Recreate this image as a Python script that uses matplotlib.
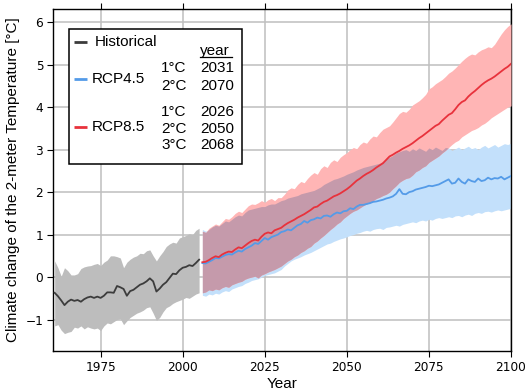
import numpy as np
import matplotlib
matplotlib.use("Agg")
import matplotlib.pyplot as plt
from matplotlib.patches import Rectangle

# ---- data ----
hist_years = np.arange(1961, 2006)
hist_mean = [-0.37, -0.45, -0.55, -0.66, -0.58, -0.53, -0.56, -0.54, -0.58, -0.52,
             -0.48, -0.46, -0.49, -0.46, -0.49, -0.44, -0.36, -0.36, -0.37, -0.21,
             -0.24, -0.28, -0.44, -0.33, -0.30, -0.24, -0.18, -0.15, -0.10, -0.03,
             -0.10, -0.34, -0.27, -0.18, -0.12, -0.02, 0.08, 0.07, 0.16, 0.22,
             0.24, 0.28, 0.26, 0.33, 0.41]
hist_hi = [0.38, 0.22, 0.02, 0.22, 0.15, 0.05, 0.05, 0.08, 0.20, 0.24,
           0.26, 0.27, 0.30, 0.32, 0.27, 0.35, 0.40, 0.50, 0.50, 0.48,
           0.45, 0.22, 0.35, 0.42, 0.47, 0.50, 0.56, 0.55, 0.62, 0.64,
           0.50, 0.38, 0.50, 0.60, 0.72, 0.78, 0.82, 0.80, 0.92, 0.95,
           0.98, 1.02, 1.00, 1.10, 1.15]
hist_lo = [-1.15, -1.12, -1.25, -1.33, -1.30, -1.28, -1.18, -1.20, -1.15, -1.22,
           -1.17, -1.20, -1.22, -1.20, -1.26, -1.15, -1.08, -1.10, -1.05, -1.00,
           -0.98, -1.12, -1.03, -0.95, -0.90, -0.85, -0.82, -0.78, -0.72, -0.70,
           -0.85, -1.02, -0.95, -0.82, -0.72, -0.68, -0.62, -0.58, -0.55, -0.52,
           -0.48, -0.50, -0.45, -0.40, -0.37]

rcp_years = np.arange(2006, 2101)
r85_mean = [0.35, 0.36, 0.40, 0.45, 0.49, 0.47, 0.53, 0.57, 0.60, 0.59,
            0.65, 0.70, 0.68, 0.74, 0.80, 0.85, 0.88, 0.86, 0.95, 1.02,
            1.05, 1.03, 1.10, 1.13, 1.16, 1.22, 1.27, 1.31, 1.35, 1.40,
            1.44, 1.48, 1.53, 1.58, 1.64, 1.66, 1.72, 1.77, 1.80, 1.85,
            1.90, 1.93, 1.97, 2.02, 2.07, 2.13, 2.20, 2.27, 2.32, 2.38,
            2.43, 2.47, 2.52, 2.58, 2.63, 2.68, 2.76, 2.84, 2.88, 2.93,
            2.97, 3.02, 3.06, 3.10, 3.15, 3.21, 3.27, 3.32, 3.38, 3.44,
            3.50, 3.56, 3.60, 3.68, 3.75, 3.82, 3.86, 3.95, 4.05, 4.12,
            4.16, 4.25, 4.32, 4.38, 4.45, 4.52, 4.58, 4.63, 4.67, 4.72,
            4.78, 4.84, 4.90, 4.95, 5.02]
r85_hi = [1.08, 1.05, 1.15, 1.20, 1.25, 1.22, 1.30, 1.38, 1.36, 1.42,
          1.50, 1.55, 1.52, 1.60, 1.68, 1.72, 1.71, 1.75, 1.80, 1.76,
          1.82, 1.85, 1.80, 1.87, 1.87, 1.95, 2.05, 2.10, 2.08, 2.18,
          2.25, 2.22, 2.32, 2.40, 2.46, 2.42, 2.55, 2.62, 2.58, 2.70,
          2.76, 2.72, 2.82, 2.88, 2.93, 3.00, 3.05, 3.02, 3.12, 3.18,
          3.15, 3.25, 3.32, 3.30, 3.40, 3.48, 3.52, 3.56, 3.65, 3.75,
          3.85, 3.90, 3.88, 3.95, 4.05, 4.10, 4.15, 4.22, 4.30, 4.43,
          4.48, 4.55, 4.60, 4.65, 4.72, 4.80, 4.85, 4.92, 5.00, 5.08,
          5.15, 5.21, 5.25, 5.23, 5.30, 5.35, 5.38, 5.42, 5.40, 5.48,
          5.60, 5.72, 5.82, 5.90, 5.96]
r85_lo = [-0.37, -0.35, -0.30, -0.32, -0.28, -0.30, -0.25, -0.22, -0.24, -0.18,
          -0.15, -0.12, -0.10, -0.05, -0.02, 0.00, 0.02, -0.02, 0.05, 0.08,
          0.12, 0.15, 0.18, 0.22, 0.26, 0.32, 0.38, 0.42, 0.48, 0.52,
          0.58, 0.62, 0.68, 0.72, 0.80, 0.85, 0.92, 0.98, 1.05, 1.12,
          1.18, 1.25, 1.30, 1.38, 1.44, 1.50, 1.55, 1.58, 1.63, 1.68,
          1.72, 1.75, 1.80, 1.85, 1.88, 1.92, 1.95, 2.00, 2.08, 2.15,
          2.23, 2.28, 2.32, 2.34, 2.40, 2.48, 2.52, 2.58, 2.62, 2.70,
          2.75, 2.80, 2.85, 2.92, 2.98, 3.05, 3.12, 3.18, 3.22, 3.30,
          3.35, 3.40, 3.45, 3.48, 3.52, 3.58, 3.62, 3.68, 3.75, 3.80,
          3.85, 3.90, 3.95, 4.00, 4.03]
r45_mean = [0.33, 0.32, 0.36, 0.40, 0.45, 0.44, 0.48, 0.52, 0.54, 0.53,
            0.58, 0.62, 0.60, 0.66, 0.70, 0.74, 0.80, 0.78, 0.85, 0.92,
            0.88, 0.94, 0.97, 1.00, 1.06, 1.08, 1.12, 1.10, 1.16, 1.22,
            1.25, 1.32, 1.28, 1.34, 1.36, 1.40, 1.38, 1.44, 1.45, 1.42,
            1.48, 1.52, 1.50, 1.55, 1.56, 1.62, 1.60, 1.66, 1.70, 1.70,
            1.72, 1.74, 1.77, 1.78, 1.80, 1.82, 1.85, 1.87, 1.90, 1.96,
            2.07, 1.96, 1.95, 2.00, 2.02, 2.06, 2.08, 2.10, 2.12, 2.15,
            2.14, 2.16, 2.18, 2.22, 2.26, 2.30, 2.20, 2.22, 2.32, 2.24,
            2.20, 2.30, 2.26, 2.24, 2.32, 2.26, 2.28, 2.34, 2.30, 2.33,
            2.32, 2.36, 2.30, 2.34, 2.38]
r45_hi = [1.12, 1.08, 1.12, 1.18, 1.22, 1.20, 1.26, 1.32, 1.30, 1.36,
          1.42, 1.46, 1.44, 1.52, 1.58, 1.60, 1.62, 1.64, 1.66, 1.66,
          1.70, 1.72, 1.72, 1.76, 1.80, 1.82, 1.86, 1.88, 1.90, 1.92,
          1.96, 1.98, 2.00, 2.02, 2.04, 2.08, 2.12, 2.18, 2.22, 2.26,
          2.30, 2.32, 2.35, 2.38, 2.42, 2.45, 2.48, 2.52, 2.55, 2.58,
          2.60, 2.62, 2.64, 2.66, 2.68, 2.72, 2.78, 2.82, 2.86, 2.92,
          2.95, 2.98, 3.00, 2.96, 3.02, 2.98, 3.04, 3.00, 2.96, 3.04,
          3.00, 3.06, 3.02, 2.98, 3.05, 3.04, 2.98, 3.02, 3.06, 3.00,
          3.04, 3.08, 3.02, 3.05, 3.00, 3.06, 3.10, 3.04, 3.08, 3.12,
          3.06, 3.10, 3.14, 3.12, 3.15]
r45_lo = [-0.43, -0.45, -0.40, -0.42, -0.38, -0.40, -0.35, -0.32, -0.34, -0.28,
          -0.25, -0.22, -0.20, -0.15, -0.12, -0.08, -0.06, -0.04, 0.00, 0.04,
          0.06, 0.08, 0.10, 0.14, 0.18, 0.26, 0.32, 0.38, 0.42, 0.45,
          0.48, 0.52, 0.55, 0.58, 0.62, 0.66, 0.70, 0.74, 0.78, 0.80,
          0.84, 0.87, 0.90, 0.92, 0.95, 0.98, 1.00, 1.03, 1.05, 1.08,
          1.10, 1.08, 1.12, 1.14, 1.15, 1.12, 1.17, 1.18, 1.20, 1.22,
          1.20, 1.24, 1.26, 1.28, 1.30, 1.28, 1.32, 1.34, 1.32, 1.36,
          1.34, 1.38, 1.40, 1.38, 1.40, 1.42, 1.40, 1.44, 1.45, 1.42,
          1.46, 1.48, 1.45, 1.50, 1.52, 1.50, 1.54, 1.55, 1.53, 1.56,
          1.58, 1.56, 1.58, 1.60, 1.62]

# legend table
rcp45_levels = ["1°C", "2°C"]
rcp45_years = ["2031", "2070"]
rcp85_levels = ["1°C", "2°C", "3°C"]
rcp85_years = ["2026", "2050", "2068"]

# ---- style ----
grey_band = "#bdbdbd"
grey_line = "#3c3c3c"
blue_band = "#c3e0fb"
blue_line = "#549be8"
red_band = "#ffb5b5"
red_line = "#e8323c"
mix_band = "#c59aab"
lab_font = "Liberation Sans"

fig = plt.figure(figsize=(5.29, 3.91), dpi=100)
ax = fig.add_axes([53 / 529, 1 - 351 / 391, 458 / 529, 342 / 391])

ax.fill_between(hist_years, hist_lo, hist_hi, color=grey_band, lw=0, zorder=2)
ax.plot(hist_years, hist_mean, color=grey_line, lw=1.3, zorder=5)

r45_hi_a = np.array(r45_hi)
r45_lo_a = np.array(r45_lo)
r85_hi_a = np.array(r85_hi)
r85_lo_a = np.array(r85_lo)
ax.fill_between(rcp_years, r45_lo, r45_hi, color=blue_band, lw=0, zorder=2)
ax.fill_between(rcp_years, r85_lo, r85_hi, color=red_band, lw=0, zorder=3)
# overlap of both ranges
ov_lo = np.maximum(r45_lo_a, r85_lo_a)
ov_hi = np.minimum(r45_hi_a, r85_hi_a)
ax.fill_between(rcp_years, ov_lo, ov_hi, where=ov_hi > ov_lo, interpolate=True,
                color=mix_band, lw=0, zorder=4)
ax.plot(rcp_years, r45_mean, color=blue_line, lw=1.3, zorder=5)
ax.plot(rcp_years, r85_mean, color=red_line, lw=1.3, zorder=6)

ax.set_xlim(1960.5, 2100)
ax.set_ylim(-1.74, 6.31)
ax.set_xticks([1975, 2000, 2025, 2050, 2075, 2100])
ax.set_yticks(range(-1, 7))
ax.grid(True, color="#bfbfbf", lw=1.1, zorder=0)
ax.set_axisbelow(True)
ax.tick_params(axis="x", top=True, direction="out", length=4, labelsize=8.7, pad=3)
ax.tick_params(axis="y", direction="out", length=4, labelsize=8.7, pad=3)
for s in ax.spines.values():
    s.set_color("black")
    s.set_linewidth(1.0)

ax.set_xlabel("Year", fontsize=11, family=lab_font, labelpad=2)
ax.set_ylabel("Climate change of the 2-meter Temperature [°C]", fontsize=11,
              family=lab_font, labelpad=4)

# ---- legend box ----
def fx(px):
    return (px - 53) / 458


def fy(py):
    return 1 - (py - 9) / 342


ax.add_patch(Rectangle((fx(69), fy(164)), fx(242) - fx(69), fy(28.7) - fy(164),
                       transform=ax.transAxes, facecolor="white", edgecolor="black",
                       lw=1.1, zorder=10))
tkw = dict(transform=ax.transAxes, fontsize=11, family=lab_font, va="center", zorder=11)
for col, y, name in [(grey_line, 41.7, "Historical"), (blue_line, 79, "RCP4.5"),
                     (red_line, 127.3, "RCP8.5")]:
    ax.plot([fx(74), fx(87)], [fy(y), fy(y)], color=col, lw=2, transform=ax.transAxes,
            zorder=11, solid_capstyle="butt")
ax.text(fx(95), fy(41.7), "Historical", **tkw)
ax.text(fx(92), fy(79), "RCP4.5", **tkw)
ax.text(fx(92), fy(127.3), "RCP8.5", **tkw)
ax.text(fx(200), fy(50.7), "year", **tkw)
ax.plot([fx(200), fx(232)], [fy(57), fy(57)], color="black", lw=0.9,
        transform=ax.transAxes, zorder=11)
for lev, yr, y in zip(rcp45_levels, rcp45_years, [68.3, 85.7]):
    ax.text(fx(161), fy(y), lev, **tkw)
    ax.text(fx(200), fy(y), yr, **tkw)
for lev, yr, y in zip(rcp85_levels, rcp85_years, [112, 129, 145.3]):
    ax.text(fx(161), fy(y), lev, **tkw)
    ax.text(fx(200), fy(y), yr, **tkw)

fig.savefig("out.png", dpi=100)
